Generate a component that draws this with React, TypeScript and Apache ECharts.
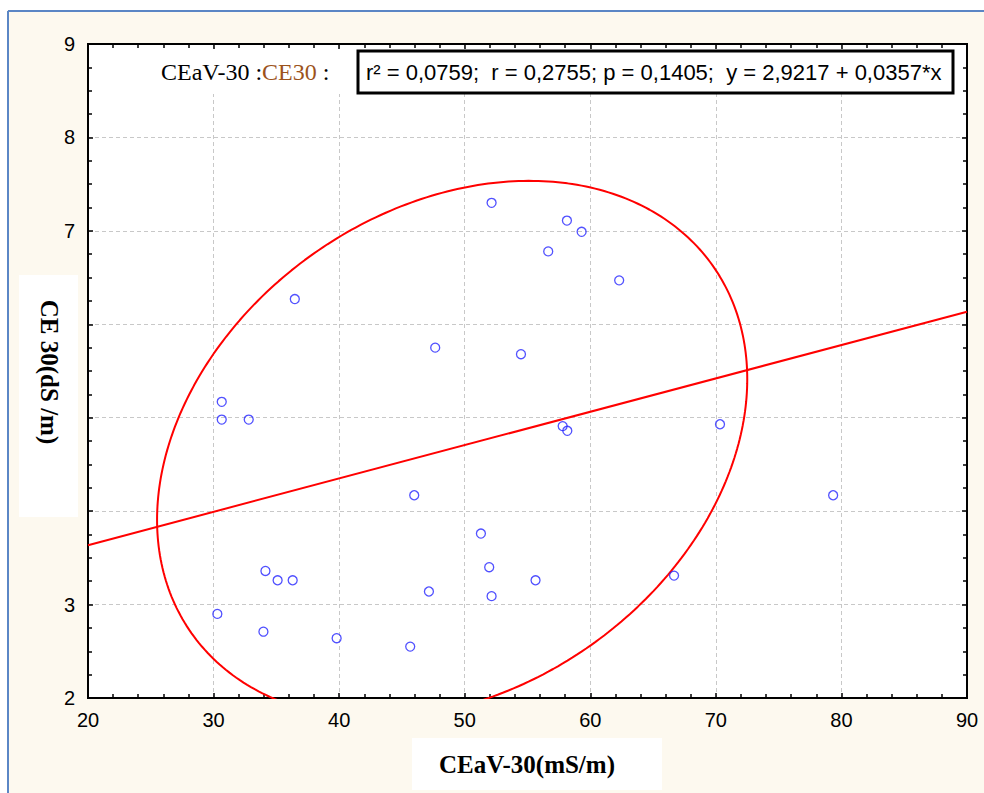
import React, { useEffect, useRef } from "react";
import * as echarts from "echarts";

// CEaV-30 (mS/m) readings for each sample
const ceavValues = [
  30.65, 30.65, 32.8, 34.13, 35.1, 36.3, 30.3, 33.97, 39.8, 45.66, 45.98, 47.15,
  52.14, 58.14, 59.31, 56.65, 62.3, 47.65, 54.48, 57.8, 58.17, 70.33, 79.34,
  66.67, 51.29, 51.95, 55.64, 52.14, 36.47,
];
// CE 30 (dS/m) readings for the same samples
const ce30Values = [
  5.17, 4.98, 4.98, 3.36, 3.26, 3.26, 2.9, 2.71, 2.64, 2.55, 4.17, 3.14, 7.3,
  7.11, 6.99, 6.78, 6.47, 5.75, 5.68, 4.91, 4.86, 4.93, 4.17, 3.31, 3.76, 3.4,
  3.26, 3.09, 6.27,
];

// Fitted regression y = a + b*x
const intercept = 2.9217;
const slope = 0.0357;
const fitRange = [20, 90];

// Confidence ellipse: centre, half extents along x / y and correlation
const ellipseCenter = [49.0, 4.66];
const ellipseHalfX = 23.5;
const ellipseHalfY = 2.875;
const ellipseCorr = 0.262;

// Axis ranges and the y tick labels hidden behind the title box
const xRange = [20, 90];
const yRange = [2, 9];
const hiddenYLabels = [4, 5, 6];

const statsText =
  "r² = 0,0759;  r = 0,2755; p = 0,1405;  y = 2,9217 + 0,0357*x";

const SANS = '"Liberation Sans", Arial, sans-serif';
const SERIF = '"Liberation Serif", "Times New Roman", serif';

function ellipsePoints(): number[][] {
  const pts: number[][] = [];
  const steps = 360;
  const s = Math.sqrt(1 - ellipseCorr * ellipseCorr);
  for (let i = 0; i <= steps; i++) {
    const t = (i / steps) * Math.PI * 2;
    pts.push([
      ellipseCenter[0] + ellipseHalfX * Math.cos(t),
      ellipseCenter[1] + ellipseHalfY * (ellipseCorr * Math.cos(t) + s * Math.sin(t)),
    ]);
  }
  return pts;
}

export default function App() {
  const ref = useRef<HTMLDivElement>(null);

  useEffect(() => {
    const chart = echarts.init(ref.current!, null, { renderer: "svg" });

    const tickStyle = { color: "#000", width: 1.5 };
    const axisLineStyle = { color: "#000", width: 2 };
    const splitStyle = { color: "#c8c8c8", width: 1, type: [4, 3] as number[] };

    chart.setOption({
      animation: false,
      backgroundColor: "#fdf9ef",
      grid: {
        left: 88,
        top: 44,
        right: 17,
        bottom: 95,
        show: true,
        backgroundColor: "#ffffff",
        borderColor: "#000",
        borderWidth: 2,
      },
      xAxis: [
        {
          type: "value",
          min: xRange[0],
          max: xRange[1],
          interval: 10,
          axisLine: { show: true, onZero: false, lineStyle: axisLineStyle },
          axisTick: { show: true, inside: true, length: 5, lineStyle: tickStyle },
          minorTick: { show: true, splitNumber: 5, length: 4, lineStyle: tickStyle },
          axisLabel: { fontSize: 20, color: "#000", fontFamily: SANS, margin: 12 },
          splitLine: { show: true, lineStyle: splitStyle },
        },
        {
          type: "value",
          position: "top",
          min: xRange[0],
          max: xRange[1],
          interval: 10,
          axisLine: { show: true, onZero: false, lineStyle: axisLineStyle },
          axisTick: { show: true, inside: true, length: 5, lineStyle: tickStyle },
          minorTick: { show: true, splitNumber: 5, length: 4, lineStyle: tickStyle },
          axisLabel: { show: false },
          splitLine: { show: false },
        },
      ],
      yAxis: [
        {
          type: "value",
          min: yRange[0],
          max: yRange[1],
          interval: 1,
          axisLine: { show: true, onZero: false, lineStyle: axisLineStyle },
          axisTick: { show: true, inside: true, length: 5, lineStyle: tickStyle },
          minorTick: { show: true, splitNumber: 4, length: 4, lineStyle: tickStyle },
          axisLabel: {
            fontSize: 20,
            color: "#000",
            fontFamily: SANS,
            margin: 13,
            formatter: (v: number) => (hiddenYLabels.includes(v) ? "" : String(v)),
          },
          splitLine: { show: true, lineStyle: splitStyle },
        },
        {
          type: "value",
          position: "right",
          min: yRange[0],
          max: yRange[1],
          interval: 1,
          axisLine: { show: true, onZero: false, lineStyle: axisLineStyle },
          axisTick: { show: true, inside: true, length: 5, lineStyle: tickStyle },
          minorTick: { show: true, splitNumber: 4, length: 4, lineStyle: tickStyle },
          axisLabel: { show: false },
          splitLine: { show: false },
        },
      ],
      series: [
        {
          type: "line",
          data: ellipsePoints(),
          showSymbol: false,
          symbol: "none",
          clip: true,
          lineStyle: { color: "#ff0000", width: 2 },
          z: 3,
        },
        {
          type: "line",
          data: fitRange.map((x) => [x, intercept + slope * x]),
          showSymbol: false,
          symbol: "none",
          lineStyle: { color: "#ff0000", width: 2 },
          z: 3,
        },
        {
          type: "scatter",
          data: ceavValues.map((x, i) => [x, ce30Values[i]]),
          symbol: "circle",
          symbolSize: 9,
          itemStyle: { color: "rgba(255,255,255,0)", borderColor: "#2626ff", borderWidth: 1.3 },
          z: 4,
        },
      ],
      graphic: [
        // white page margin and the blue frame
        { type: "rect", shape: { x: 0, y: 0, width: 984, height: 10 }, style: { fill: "#ffffff" }, z: 1 },
        { type: "rect", shape: { x: 0, y: 0, width: 7, height: 793 }, style: { fill: "#ffffff" }, z: 1 },
        { type: "line", shape: { x1: 8, y1: 11, x2: 8, y2: 793 }, style: { stroke: "#5b86c5", lineWidth: 2 }, z: 2 },
        { type: "line", shape: { x1: 8, y1: 11, x2: 984, y2: 11 }, style: { stroke: "#5b86c5", lineWidth: 2 }, z: 2 },
        // header strip inside the plot
        { type: "rect", shape: { x: 94, y: 50, width: 867, height: 44 }, style: { fill: "#ffffff" }, z: 50 },
        {
          type: "text",
          x: 161,
          y: 72,
          z: 60,
          style: {
            text: "{a|CEaV-30 :}{b|CE30}{a| :}",
            verticalAlign: "middle",
            align: "left",
            font: `24px ${SERIF}`,
            rich: {
              a: { fill: "#000", font: `24px ${SERIF}` },
              b: { fill: "#9c531c", font: `24px ${SERIF}` },
            },
          },
        },
        {
          type: "rect",
          shape: { x: 358, y: 51, width: 595, height: 42 },
          style: { fill: "#ffffff", stroke: "#000", lineWidth: 3 },
          z: 60,
        },
        {
          type: "text",
          x: 366,
          y: 72,
          z: 61,
          style: {
            text: statsText,
            fill: "#000",
            font: `22px ${SANS}`,
            align: "left",
            verticalAlign: "middle",
          },
        },
        // y axis title
        { type: "rect", shape: { x: 19, y: 275, width: 59, height: 242 }, style: { fill: "#ffffff" }, z: 60 },
        {
          type: "text",
          x: 49,
          y: 372,
          rotation: -Math.PI / 2,
          z: 61,
          style: {
            text: "CE 30(dS /m)",
            fill: "#000",
            font: `bold 25px ${SERIF}`,
            align: "center",
            verticalAlign: "middle",
          },
        },
        // x axis title
        { type: "rect", shape: { x: 412, y: 738, width: 250, height: 52 }, style: { fill: "#ffffff" }, z: 60 },
        {
          type: "text",
          x: 527,
          y: 764,
          z: 61,
          style: {
            text: "CEaV-30(mS/m)",
            fill: "#000",
            font: `bold 25px ${SERIF}`,
            align: "center",
            verticalAlign: "middle",
          },
        },
      ],
    });

    return () => chart.dispose();
  }, []);

  return (
    <div
      ref={ref}
      style={{ position: "absolute", left: 0, top: 0, width: 984, height: 793 }}
    />
  );
}
